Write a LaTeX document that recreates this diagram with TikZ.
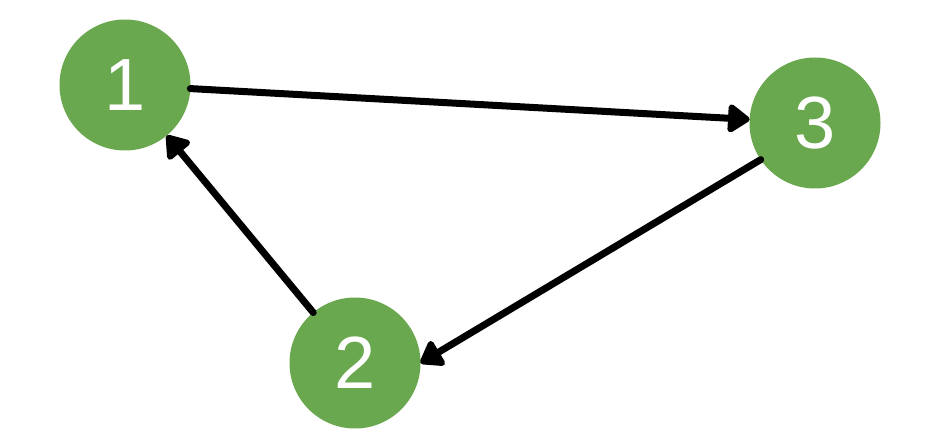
\documentclass[tikz,border=0pt]{standalone}
\usepackage{fontspec}
\setmainfont{Liberation Sans}
\usetikzlibrary{arrows.meta}
\definecolor{leafgreen}{HTML}{6AA84F}
\tikzset{
  state/.style={circle,fill=leafgreen,draw=none,minimum size=131pt,inner sep=0pt,outer sep=0pt,
    text=white,font=\fontsize{74}{74}\selectfont},
  edge/.style={line width=7pt,-{Triangle[length=24pt,width=32pt,round]},black}
}
\begin{document}
\begin{tikzpicture}[x=1pt,y=-1pt,line cap=round,line join=round]

% frame
\useasboundingbox (0,0) rectangle (940,446);

% states
\node[state] (n1) at (125,85) {1};
\node[state] (n2) at (355,363) {2};
\node[state] (n3) at (815,123) {3};

% transitions
\draw[edge] (n1) -- (n3);
\draw[edge] (n3.214) -- (n2.east);
\draw[edge] (n2) -- (n1);

\end{tikzpicture}
\end{document}
